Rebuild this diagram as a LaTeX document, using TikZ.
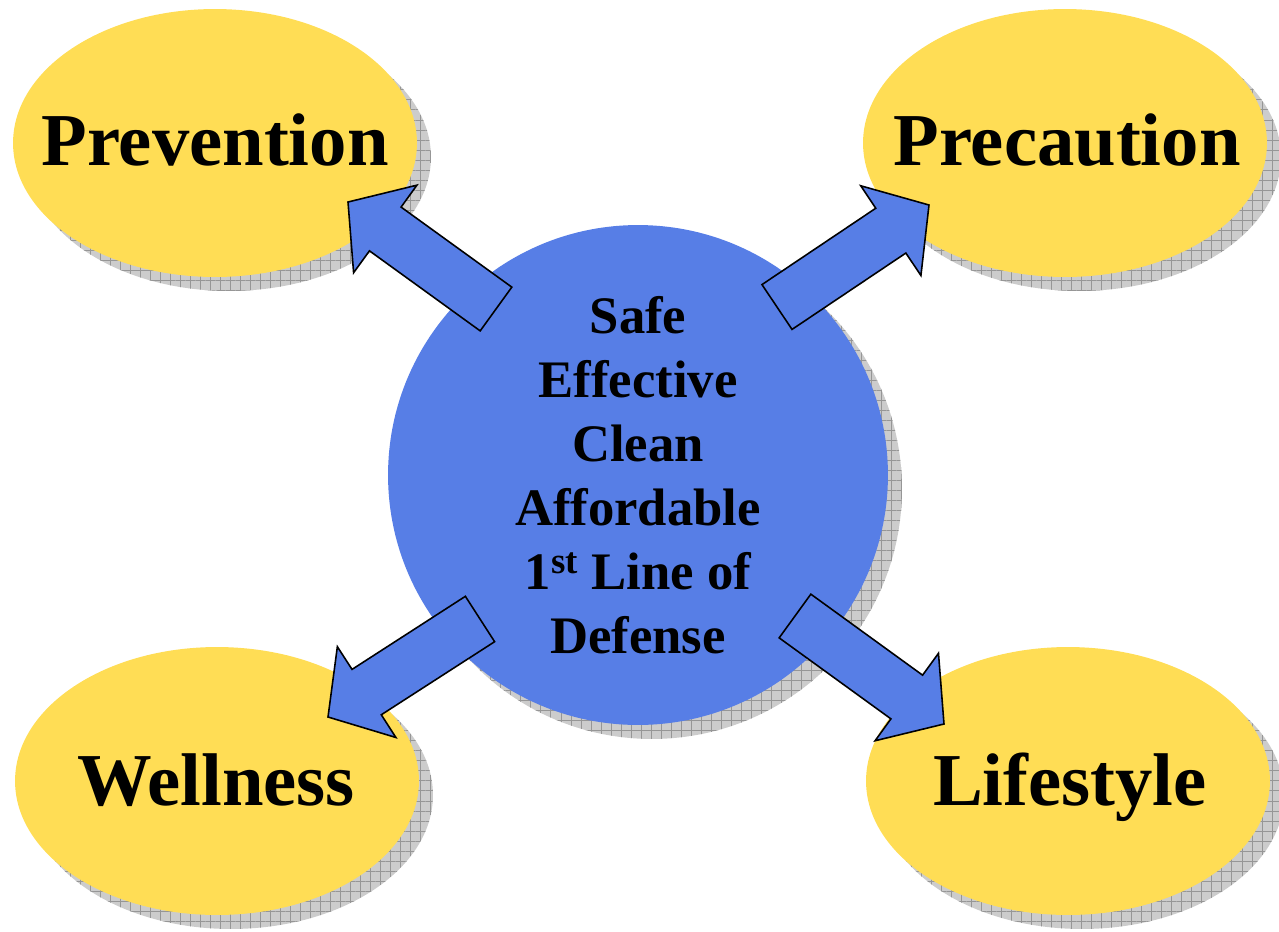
\documentclass[tikz,border=0pt]{standalone}
\usepackage{fontspec}
\setmainfont{Liberation Serif}
\usetikzlibrary{shapes.geometric, shadows, calc, patterns.meta}

\definecolor{ovalyellow}{RGB}{255,221,85}
\definecolor{discblue}{RGB}{87,126,230}
\definecolor{shadowgray}{RGB}{204,204,204}
\definecolor{gridgray}{RGB}{150,150,150}

\tikzset{
    hatched/.style={drop shadow={shadow xshift=0.28cm, shadow yshift=-0.28cm, opacity=1, fill=shadowgray,
        postaction={pattern={Lines[angle=0, distance=5.7pt, line width=0.35pt]}, pattern color=gridgray},
        postaction={pattern={Lines[angle=90, distance=5.7pt, line width=0.35pt]}, pattern color=gridgray}}},
    bubble/.style={ellipse, fill=ovalyellow, minimum width=8.08cm, minimum height=5.36cm, inner sep=0pt, hatched},
    disc/.style={circle, fill=discblue, minimum size=10cm, inner sep=0pt, hatched, align=center,
        font=\fontsize{30}{36.4}\selectfont\bfseries},
    word/.style={anchor=base, inner sep=0pt, font=\fontsize{42.5}{50}\selectfont\bfseries},
    barrow/.style={draw=black, line width=0.9pt, fill=discblue, line join=miter,
        to path={($(\tikztostart)!0.54cm!90:(\tikztotarget)$)
            -- ($(\tikztotarget)!1.067cm!-30.4:(\tikztostart)$)
            -- ($(\tikztotarget)!1.419cm!-49.6:(\tikztostart)$)
            -- (\tikztotarget)
            -- ($(\tikztotarget)!1.419cm!49.6:(\tikztostart)$)
            -- ($(\tikztotarget)!1.067cm!30.4:(\tikztostart)$)
            -- ($(\tikztostart)!0.54cm!-90:(\tikztotarget)$) -- cycle}}
}

\begin{document}
\begin{tikzpicture}[x=0.02cm, y=-0.02cm]
                        \useasboundingbox (0, 0) rectangle (1279, 931);
                        \node[bubble] (prevention) at (215, 143) {};
                        \node[bubble] (precaution) at (1065, 143) {};
                        \node[bubble] (wellness) at (217, 781) {};
                        \node[bubble] (lifestyle) at (1068, 781) {};
                        \node[word] (preventionword) at (215, 165) {Prevention};
                        \node[word] (precautionword) at (1067, 165) {Precaution};
                        \node[word] (wellnessword) at (216, 805) {Wellness};
                        \node[word] (lifestyleword) at (1070, 805) {Lifestyle};
                        \node[disc] (core) at (638, 475)
                            {Safe\\Effective\\Clean\\Affordable\\1\textsuperscript{st} Line of\\Defense};
                        \coordinate (nwtail) at (496, 309);
                        \coordinate (nwtip) at (348, 202);
                        \coordinate (netail) at (777, 307);
                        \coordinate (netip) at (929, 205);
                        \coordinate (swtail) at (480, 619);
                        \coordinate (swtip) at (328, 717);
                        \coordinate (setail) at (795, 616);
                        \coordinate (setip) at (944, 724);
                        \draw[barrow] (nwtail) to (nwtip);
                        \draw[barrow] (netail) to (netip);
                        \draw[barrow] (swtail) to (swtip);
                        \draw[barrow] (setail) to (setip);
\end{tikzpicture}
\end{document}
